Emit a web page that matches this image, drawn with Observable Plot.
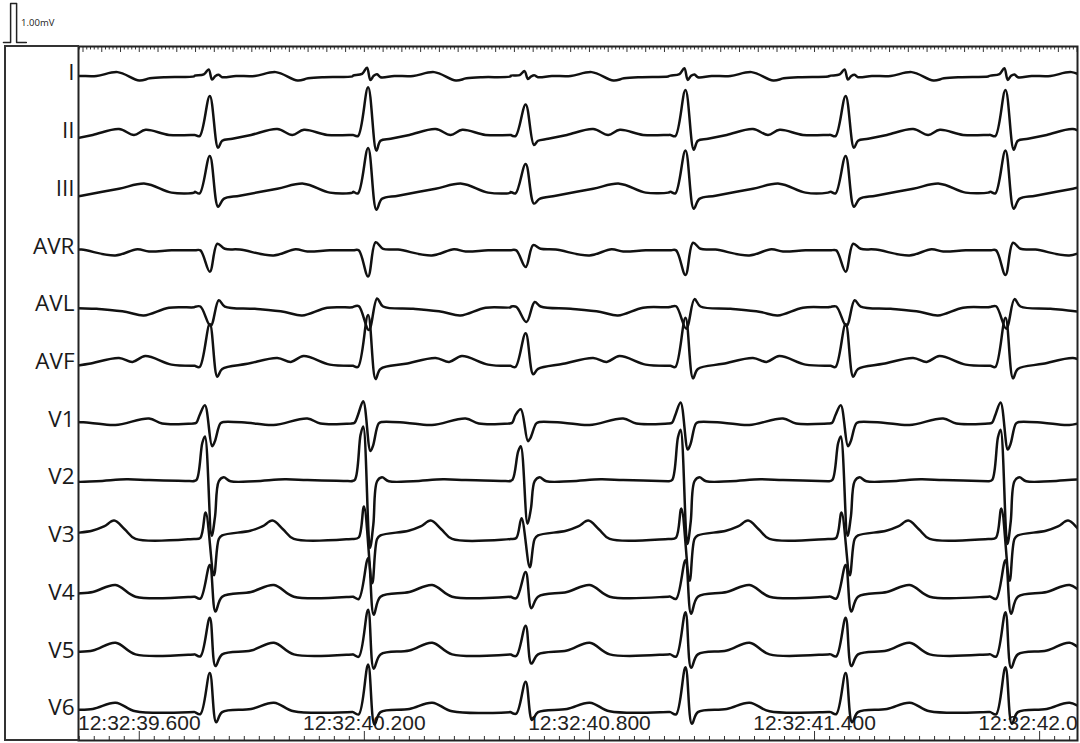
<!DOCTYPE html>
<html><head><meta charset="utf-8">
<script src="https://cdn.jsdelivr.net/npm/d3@7"></script>
<script src="https://cdn.jsdelivr.net/npm/@observablehq/plot@0.6"></script>
<style>
html,body{margin:0;padding:0;background:#fff;}
#wrap{position:relative;width:1080px;height:743px;overflow:hidden;}
#leftbox{position:absolute;left:4px;top:45px;width:75px;height:696px;border:2px solid #333;border-right:none;box-sizing:border-box;}
#chart{position:absolute;left:0;top:0;}
</style></head><body>
<div id="wrap"><div id="chart"></div><div id="leftbox"></div></div>
<script>
// ---- data ----
const leads = ["I","II","III","AVR","AVL","AVF","V1","V2","V3","V4","V5","V6"];
// R-peak times, seconds past 12:32
const beatTimes = [39.366, 39.788, 40.210, 40.630, 41.056, 41.483, 41.909];
// QRS amplitude factor per beat
const qrsGain = [1.0, 1.0, 1.22, 0.78, 1.15, 1.0, 1.15];
// one-beat templates per lead: [ms from R peak, mV]
const leadI   = [[-40,0.04],[-16,0.07],[-3,0.2],[6,-0.06],[15,0.03],[24,0.06],[33,0.0],[70,0.03],[120,0.03],[176,0.13],[234,-0.085],[262,-0.03],[304,0.0],[380,0.02]];
const leadII  = [[-40,0.0],[-27,-0.03],[0,1.0],[22,-0.33],[33,-0.15],[60,-0.1],[110,0.0],[180,0.15],[220,0.0],[251,0.13],[313,0.0],[380,0.0]];
const leadIII = [[-40,0.02],[-27,-0.02],[0,0.94],[22,-0.36],[37,-0.16],[80,-0.08],[180,0.1],[250,0.23],[320,0.0],[380,0.0]];
const leadAVR = [[-40,0.0],[-25,0.0],[0,-0.55],[20,0.17],[40,0.04],[80,0.02],[170,-0.13],[229,0.03],[260,-0.03],[320,0.0],[380,0.0]];
const leadAVL = [[-40,0.03],[-25,0.04],[2,-0.46],[24,0.2],[40,0.04],[120,-0.02],[200,-0.1],[246,-0.19],[313,0.01],[380,0.02]];
const leadAVF = [[-40,0.0],[-27,-0.03],[0,1.07],[20,-0.28],[33,-0.08],[100,0.05],[180,0.2],[216,0.1],[250,0.25],[320,0.03],[380,0.0]];
const leadV1  = [[-45,0.0],[-36,0.02],[-27,0.22],[-13,0.47],[6,-0.58],[13,-0.47],[28,0.0],[37,0.04],[100,0.02],[170,-0.04],[260,0.13],[295,0.0],[380,0.0]];
const leadV2  = [[-45,0.0],[-35,0.04],[-20,0.98],[-13,1.15],[5,-1.4],[14,-0.9],[24,0.0],[37,0.1],[55,0.0],[120,0.0],[200,0.05],[260,0.03],[380,0.0]];
const leadV3  = [[-40,0.0],[-25,0.03],[-11,0.68],[11,-0.93],[24,0.0],[33,0.09],[108,0.21],[140,0.32],[167,0.47],[195,0.25],[224,0.0],[380,0.0]];
const leadV4  = [[-40,0.0],[-25,-0.05],[0,0.81],[15,-0.38],[33,0.0],[110,0.12],[171,0.3],[224,0.0],[380,0.0]];
const leadV5  = [[-40,0.0],[-25,-0.05],[0,0.94],[15,-0.3],[33,0.0],[110,0.1],[171,0.3],[224,0.0],[380,0.0]];
const leadV6  = [[-40,0.0],[-25,-0.05],[0,1.0],[17,-0.26],[33,0.0],[110,0.08],[171,0.24],[224,0.02],[380,0.0]];
const tickLabels = ["12:32:39.600","12:32:40.200","12:32:40.800","12:32:41.400","12:32:42.000"];
const calPulseMs = [-200,-181,-181,-165,-165,-139];
const calPulseMv = [0,0,1,1,0,0];
const calLabel = "1.00mV";

// ---- build ----
const templates = [leadI,leadII,leadIII,leadAVR,leadAVL,leadAVF,leadV1,leadV2,leadV3,leadV4,leadV5,leadV6];
const parseT = d3.utcParse("%H:%M:%S.%L");
const base = +parseT("12:32:00.000");
const toDate = s => new Date(base + s*1000);
const xStart = 39.4373, xEnd = 42.101;
const rowStep = 1.48;           // mV between lead baselines
const yTop = 0.787, yBottom = yTop - 17.795;

const data = [];
leads.forEach((lead, li) => {
  const off = -li*rowStep;
  beatTimes.forEach((bt, bi) => {
    templates[li].forEach(([ms, mv]) => {
      const g = Math.abs(ms) <= 25 ? qrsGain[bi] : 1;
      data.push({lead, t: toDate(bt + ms/1000), v: off + mv*g});
    });
  });
});

const topTicks = d3.range(Math.ceil(xStart*100), Math.floor(xEnd*100)+1).map(i => ({t: i/100, long: i % 5 === 0}));
const botTicks = d3.range(-4, 63).map(k => ({t: 39.6 + k*0.04, major: k % 15 === 0})).filter(d => d.t > xStart && d.t < xEnd);
const px = 1/39;

const cal = calPulseMs.map((m,i) => ({t: toDate(xStart + m/1000), v: yTop + 0.1 + calPulseMv[i]}));

const labelFont = "'Open Sans', 'Noto Sans', 'DejaVu Sans', sans-serif";
const timeFont = "'Liberation Sans', Arial, sans-serif";

const chart = Plot.plot({
  width: 1080, height: 743,
  marginLeft: 78, marginRight: 3, marginTop: 46, marginBottom: 3,
  x: {type: "utc", domain: [toDate(xStart), toDate(xEnd)], axis: null},
  y: {domain: [yBottom, yTop], axis: null},
  marks: [
    Plot.text(tickLabels, {x: d => parseT(d), y: yBottom, dy: -17, text: d => d, fontSize: 21, fontFamily: timeFont, fill: "#222", clip: true}),
    Plot.ruleX(topTicks, {x: d => toDate(d.t), y1: yTop, y2: d => yTop - (d.long ? 6 : 3.5)*px, stroke: "#333", strokeWidth: 1}),
    Plot.ruleX(botTicks, {x: d => toDate(d.t), y1: yBottom, y2: d => yBottom + (d.major ? 9 : 4)*px, stroke: "#333", strokeWidth: 1}),
    Plot.line(data, {x: "t", y: "v", z: "lead", stroke: "#111", strokeWidth: 2.5, curve: "catmull-rom", clip: true}),
    Plot.text(leads, {x: toDate(xStart), y: (d,i) => -i*rowStep, dx: -4, dy: -4, textAnchor: "end", text: d => d, fontSize: 22.5, fontFamily: labelFont, fill: "#1a1a1a"}),
    Plot.frame({stroke: "#222", strokeWidth: 2}),
    Plot.line(cal, {x: "t", y: "v", stroke: "#222", strokeWidth: 1.5}),
    Plot.text([calLabel], {x: toDate(xStart - 0.153), y: yTop + 0.1 + 0.5, text: d => d, textAnchor: "start", fontSize: 9.5, fontFamily: labelFont, fill: "#222"})
  ]
});
document.getElementById("chart").append(chart);
</script>
</body></html>
